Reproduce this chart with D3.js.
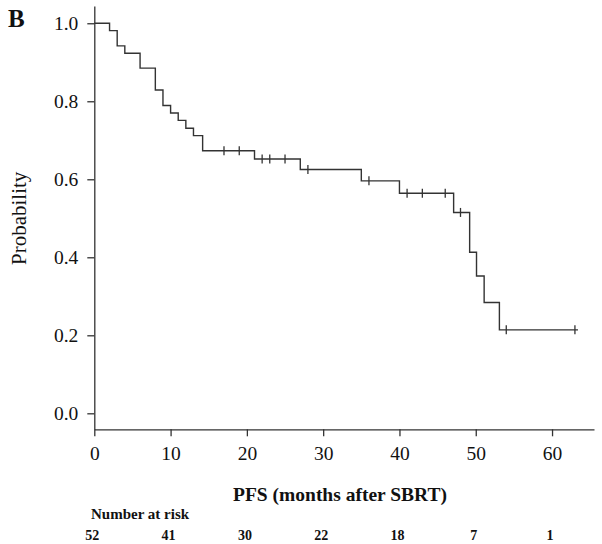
<!DOCTYPE html>
<html>
<head>
<meta charset="utf-8">
<script src="https://cdn.jsdelivr.net/npm/d3@7"></script>
<style>
  html, body { margin: 0; padding: 0; background: #fff; }
  svg { display: block; }
  text { font-family: "Liberation Serif", "Times New Roman", serif; fill: #111; }
</style>
</head>
<body>
<svg id="chart" width="602" height="544"></svg>
<script>
// Kaplan-Meier step data (time in months, survival probability after the drop)
const stepTimes = [0, 2, 3, 4, 6, 8, 9, 10, 11, 12, 13, 14.2, 21, 27, 35, 40, 47.1, 49.2, 50.1, 51.1, 53.1];
const stepSurv  = [1.0, 0.981, 0.942, 0.923, 0.885, 0.829, 0.789, 0.770, 0.751, 0.731, 0.712, 0.673, 0.652, 0.625, 0.596, 0.564, 0.515, 0.413, 0.352, 0.284, 0.214];
const endTime = 63.4;
// Censored observations (months)
const censorTimes = [17, 19, 22, 23, 25, 28, 36, 41, 43, 46, 48, 54, 63];
// Axis ticks
const xTicks = [0, 10, 20, 30, 40, 50, 60];
const yTicks = [0.0, 0.2, 0.4, 0.6, 0.8, 1.0];
// Number at risk
const riskTimes = [0, 10, 20, 30, 40, 50, 60];
const riskCounts = [52, 41, 30, 22, 18, 7, 1];

const svg = d3.select("#chart");
const ink = "#333";

const x = d3.scaleLinear().domain([0, 65.5]).range([94.3, 594]);
const y = d3.scaleLinear().domain([-0.041, 1.044]).range([429.3, 6.1]);

// Axes
const xAxis = d3.axisBottom(x).tickValues(xTicks).tickFormat(d3.format("d"))
  .tickSize(7).tickSizeOuter(0).tickPadding(10);
const yAxis = d3.axisLeft(y).tickValues(yTicks).tickFormat(d3.format(".1f"))
  .tickSize(7).tickSizeOuter(0).tickPadding(9);

const gx = svg.append("g").attr("transform", `translate(0,${y.range()[0]})`).call(xAxis);
const gy = svg.append("g").attr("transform", `translate(${x.range()[0]},0)`).call(yAxis);
[gx, gy].forEach(g => {
  g.selectAll("path, line").attr("stroke", ink).attr("stroke-width", 1.3);
  g.selectAll("text").attr("font-family", '"Liberation Serif", serif')
    .attr("font-size", 19.5).attr("fill", "#111");
});

// Survival curve
const pts = stepTimes.map((t, i) => [t, stepSurv[i]]);
pts.push([endTime, stepSurv[stepSurv.length - 1]]);
const line = d3.line().x(d => x(d[0])).y(d => y(d[1])).curve(d3.curveStepAfter);
svg.append("path").datum(pts).attr("d", line)
  .attr("fill", "none").attr("stroke", ink).attr("stroke-width", 1.4);

// Censor marks
const survAt = t => stepSurv[d3.bisectRight(stepTimes, t) - 1];
svg.append("g").selectAll("line").data(censorTimes).join("line")
  .attr("x1", d => x(d)).attr("x2", d => x(d))
  .attr("y1", d => y(survAt(d)) - 4.5).attr("y2", d => y(survAt(d)) + 4.5)
  .attr("stroke", ink).attr("stroke-width", 1.3);

// Panel letter
svg.append("text").attr("x", 8).attr("y", 27)
  .attr("font-size", 25).attr("font-weight", "bold").text("B");

// Y label
svg.append("text")
  .attr("transform", `translate(26,${y(0.5)}) rotate(-90)`)
  .attr("text-anchor", "middle").attr("font-size", 21).text("Probability");

// X label
svg.append("text").attr("x", 340).attr("y", 501)
  .attr("text-anchor", "middle").attr("font-size", 19.5).attr("font-weight", "bold")
  .text("PFS (months after SBRT)");

// Number at risk
svg.append("text").attr("x", 91).attr("y", 519)
  .attr("font-size", 15).attr("font-weight", "bold").text("Number at risk");
svg.append("g").selectAll("text").data(riskTimes).join("text")
  .attr("x", d => x(d) - 2).attr("y", 540)
  .attr("text-anchor", "middle").attr("font-size", 14).attr("font-weight", "bold")
  .text((d, i) => riskCounts[i]);
</script>
</body>
</html>
